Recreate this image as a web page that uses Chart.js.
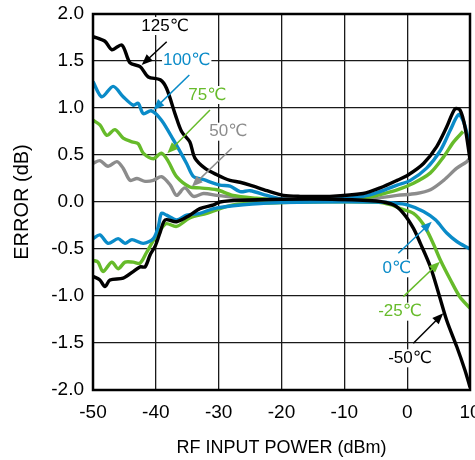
<!DOCTYPE html>
<html>
<head>
<meta charset="utf-8">
<script src="https://cdn.jsdelivr.net/npm/chart.js@4.4.1/dist/chart.umd.min.js"></script>
<style>
  html, body { margin: 0; padding: 0; background: #fff; }
  canvas { display: block; }
</style>
</head>
<body>
<canvas id="c" width="475" height="460"></canvas>
<script>
// ---- data ----
const xTicks = [-50, -40, -30, -20, -10, 0, 10];
const yTicks = [-2.0, -1.5, -1.0, -0.5, 0.0, 0.5, 1.0, 1.5, 2.0];

const t125X = [-50, -48.1, -47, -45.4, -44.1, -42.5, -41.2, -39.3, -38.3, -36.9, -35.9, -34.6, -33.8, -32.2, -30.3, -28.2, -26.6, -25, -22.3, -19.7, -17, -12.3, -7, -4.3, -1.6, 0.2, 2.6, 4.7, 6.3, 7.6, 8.4, 9.2, 10];
const t125Y = [1.76, 1.71, 1.62, 1.67, 1.48, 1.44, 1.33, 1.30, 1.21, 0.93, 0.75, 0.64, 0.47, 0.36, 0.29, 0.23, 0.21, 0.18, 0.12, 0.07, 0.06, 0.06, 0.09, 0.15, 0.23, 0.29, 0.41, 0.59, 0.80, 0.99, 0.98, 0.80, 0.45];

const t100X = [-50, -48.6, -46.8, -45.2, -43.6, -42.8, -42, -40.7, -39.1, -37.2, -35.1, -34, -32.5, -29.8, -28.2, -26.6, -25, -22.3, -19.7, -12.3, -7, -4.3, -1.6, 0.5, 3.1, 5.3, 6.9, 8.2, 9, 10];
const t100Y = [1.28, 1.12, 1.23, 1.12, 1.03, 1.05, 0.94, 0.97, 0.87, 0.66, 0.41, 0.27, 0.24, 0.18, 0.17, 0.11, 0.12, 0.07, 0.03, 0.03, 0.06, 0.11, 0.18, 0.23, 0.36, 0.55, 0.77, 0.93, 0.85, 0.60];

const t75X = [-50, -48.9, -47.8, -46.5, -45.2, -43.8, -42.8, -42, -40.4, -39.1, -38, -36.7, -34.6, -33, -30.3, -27.7, -24, -20, -12, -7, -4.3, -1.6, 1, 3.7, 5.8, 7.4, 8.9];
const t75Y = [0.87, 0.82, 0.71, 0.77, 0.68, 0.64, 0.62, 0.52, 0.46, 0.52, 0.43, 0.27, 0.16, 0.15, 0.13, 0.07, 0.04, 0.02, 0.02, 0.04, 0.08, 0.13, 0.20, 0.31, 0.48, 0.64, 0.75];

const t50X = [-50, -48.9, -47.6, -46.2, -45.2, -44.1, -43, -41.7, -40.4, -39.1, -37.7, -36.7, -35.4, -34, -32.4, -30.3, -27.7, -24, -20, -12, -5, -1.6, 1.5, 3.7, 5.8, 7.9, 9.5, 10];
const t50Y = [0.41, 0.44, 0.38, 0.43, 0.36, 0.23, 0.25, 0.22, 0.23, 0.27, 0.18, 0.07, 0.15, 0.06, 0.09, 0.07, 0.05, 0.03, 0.02, 0.02, 0.04, 0.07, 0.09, 0.13, 0.23, 0.36, 0.43, 0.47];

const t0X = [-50, -48.9, -47.6, -46, -44.9, -43.8, -42, -40.4, -39.6, -39.1, -38.3, -36.7, -35.1, -33, -30.8, -27.7, -22.3, -15, -5, -2.2, 0, 2.6, 4.5, 6.3, 7.9, 10];
const t0Y = [-0.39, -0.35, -0.44, -0.39, -0.44, -0.40, -0.44, -0.39, -0.26, -0.12, -0.14, -0.19, -0.14, -0.12, -0.07, -0.04, -0.01, 0.0, 0.0, -0.01, -0.03, -0.10, -0.19, -0.33, -0.42, -0.50];

const tm25X = [-50, -49.2, -48.4, -47, -46, -44.9, -43.6, -42.5, -41.5, -40.3, -39.1, -38.3, -36.7, -34.6, -31.9, -27.7, -22, -15, -5, -2.5, -1.1, 1, 2.6, 4, 5.3, 6.9, 8.4, 10];
const tm25Y = [-0.62, -0.64, -0.74, -0.64, -0.71, -0.64, -0.64, -0.65, -0.54, -0.40, -0.28, -0.23, -0.26, -0.17, -0.12, -0.03, -0.01, 0.0, 0.0, -0.03, -0.07, -0.12, -0.24, -0.42, -0.62, -0.83, -1.01, -1.13];

const tm50X = [-50, -48.9, -48.1, -47.3, -45.2, -43.6, -42.5, -41.7, -40.9, -40.1, -39.3, -38.5, -36.7, -34.6, -33, -30.8, -29.8, -26.6, -20, -12, -5, -2.2, -0.6, 1, 2.1, 3.7, 5, 6.3, 7.9, 9.2, 10];
const tm50Y = [-0.79, -0.83, -0.90, -0.83, -0.81, -0.74, -0.69, -0.69, -0.56, -0.47, -0.32, -0.19, -0.21, -0.14, -0.07, -0.03, 0.0, 0.02, 0.03, 0.03, 0.01, -0.03, -0.12, -0.28, -0.44, -0.69, -0.97, -1.26, -1.54, -1.79, -1.97];

// ---- styles ----
const BLACK = '#000000', BLUE = '#0a8bc8', GREEN = '#66bb2a', GREY = '#8c8c8c';

// label annotations: text, colour, text position, arrow start, arrow tip (data coords)
const labels = [
  { text: '125℃', color: BLACK, tx: -38.54, ty: 1.872, ax: -38.27, ay: 1.705, bx: -42.25, by: 1.457 },
  { text: '100℃', color: BLUE,  tx: -35.09, ty: 1.511, ax: -34.67, ay: 1.351, bx: -40.40, by: 0.979 },
  { text: '75℃',  color: GREEN, tx: -31.81, ty: 1.138, ax: -31.38, ay: 0.979, bx: -38.17, by: 0.518 },
  { text: '50℃',  color: GREY,  tx: -28.47, ty: 0.748, ax: -27.92, ay: 0.571, bx: -34.29, by: 0.163 },
  { text: '0℃',   color: BLUE,  tx: -1.66,  ty: -0.705, ax: -1.41, ay: -0.546, bx: 3.91, by: -0.210 },
  { text: '-25℃', color: GREEN, tx: -1.14,  ty: -1.167, ax: -0.61, ay: -1.007, bx: 5.22, by: -0.635 },
  { text: '-50℃', color: BLACK, tx: 0.45,   ty: -1.663, ax: 0.98,  ay: -1.503, bx: 5.75, by: -1.184 }
];

function pts(xs, ys) { return xs.map((x, i) => ({ x: x, y: ys[i] })); }
function ds(label, xs, ys, color) {
  return { label: label, data: pts(xs, ys), borderColor: color, backgroundColor: color,
           borderWidth: 3.4, pointRadius: 0, tension: 0.3, fill: false };
}

const FONT = "'Liberation Sans', Arial, 'DejaVu Sans', sans-serif";

const annotPlugin = {
  id: 'annot',
  afterDatasetsDraw(chart) {
    const ctx = chart.ctx, xs = chart.scales.x, ys = chart.scales.y, a = chart.chartArea;
    ctx.save();
    // frame
    ctx.strokeStyle = '#000';
    ctx.lineWidth = 2.5;
    ctx.strokeRect(a.left, a.top, a.right - a.left, a.bottom - a.top);
    ctx.font = '17px ' + FONT;
    ctx.textAlign = 'center';
    ctx.textBaseline = 'middle';
    labels.forEach(l => {
      const tx = xs.getPixelForValue(l.tx), ty = ys.getPixelForValue(l.ty);
      const w = ctx.measureText(l.text).width;
      ctx.fillStyle = '#fff';
      ctx.fillRect(tx - w / 2 - 1, ty - 9, w + 2, 18);
      ctx.fillStyle = l.color;
      ctx.fillText(l.text, tx, ty);
      const x1 = xs.getPixelForValue(l.ax), y1 = ys.getPixelForValue(l.ay);
      const x2 = xs.getPixelForValue(l.bx), y2 = ys.getPixelForValue(l.by);
      const ang = Math.atan2(y2 - y1, x2 - x1);
      const hl = 11, hw = 4.5;
      ctx.strokeStyle = l.color;
      ctx.lineWidth = 1.5;
      ctx.beginPath();
      ctx.moveTo(x1, y1);
      ctx.lineTo(x2 - Math.cos(ang) * hl * 0.8, y2 - Math.sin(ang) * hl * 0.8);
      ctx.stroke();
      ctx.beginPath();
      ctx.moveTo(x2, y2);
      ctx.lineTo(x2 - Math.cos(ang) * hl - Math.sin(ang) * hw, y2 - Math.sin(ang) * hl + Math.cos(ang) * hw);
      ctx.lineTo(x2 - Math.cos(ang) * hl + Math.sin(ang) * hw, y2 - Math.sin(ang) * hl - Math.cos(ang) * hw);
      ctx.closePath();
      ctx.fillStyle = l.color;
      ctx.fill();
    });
    ctx.restore();
  }
};

new Chart(document.getElementById('c'), {
  type: 'line',
  data: {
    datasets: [
      ds('-50℃', tm50X, tm50Y, BLACK),
      ds('125℃', t125X, t125Y, BLACK),
      ds('0℃', t0X, t0Y, BLUE),
      ds('100℃', t100X, t100Y, BLUE),
      ds('-25℃', tm25X, tm25Y, GREEN),
      ds('75℃', t75X, t75Y, GREEN),
      ds('50℃', t50X, t50Y, GREY)
    ]
  },
  options: {
    responsive: false,
    animation: false,
    devicePixelRatio: 1,
    layout: { padding: { top: 14, right: 5, left: 0, bottom: 0 } },
    plugins: { legend: { display: false }, tooltip: { enabled: false } },
    scales: {
      x: {
        type: 'linear', min: -50, max: 10,
        afterBuildTicks: s => { s.ticks = xTicks.map(v => ({ value: v })); },
        afterFit: s => { s.paddingLeft = 0; s.paddingRight = 0; s.height = 70; },
        ticks: { color: '#000', font: { size: 19, family: FONT }, padding: 11, maxRotation: 0, autoSkip: false,
                 callback: v => String(v) },
        grid: { color: '#1a1a1a', lineWidth: 1.3, drawTicks: false },
        border: { display: false },
        title: { display: true, text: 'RF INPUT POWER (dBm)', color: '#000',
                 font: { size: 18, family: FONT }, padding: { top: 0, bottom: 1 } }
      },
      y: {
        type: 'linear', min: -2, max: 2,
        afterBuildTicks: s => { s.ticks = yTicks.map(v => ({ value: v })); },
        afterFit: s => { s.width = 93; s.paddingTop = 0; s.paddingBottom = 0; },
        ticks: { color: '#000', font: { size: 19, family: FONT }, padding: 9, autoSkip: false,
                 callback: v => Number(v).toFixed(1) },
        grid: { color: '#1a1a1a', lineWidth: 1.3, drawTicks: false },
        border: { display: false },
        title: { display: true, text: 'ERROR (dB)', color: '#000',
                 font: { size: 20, family: FONT }, padding: { top: 10, bottom: 0 } }
      }
    }
  },
  plugins: [annotPlugin]
});
</script>
</body>
</html>
